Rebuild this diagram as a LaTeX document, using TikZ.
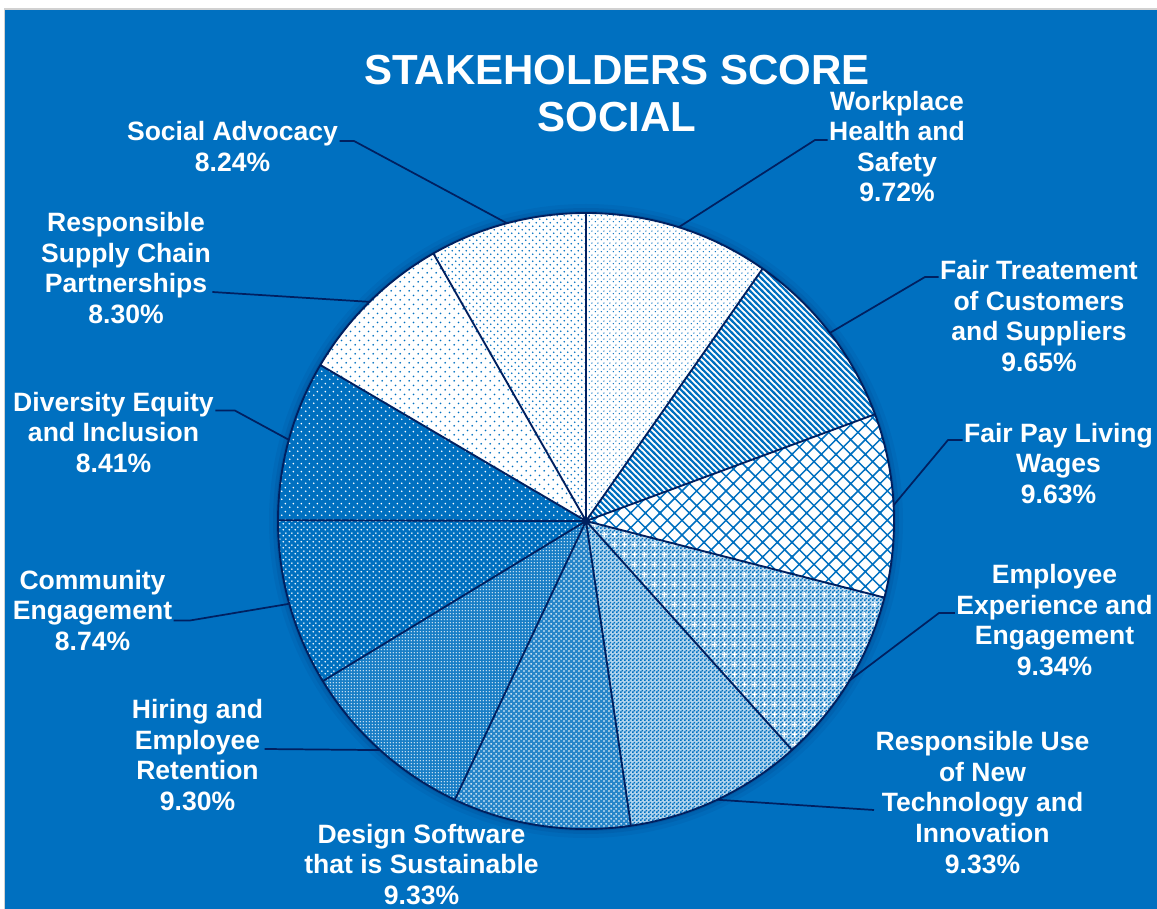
\documentclass[tikz,border=0pt]{standalone}
\usepackage{fontspec}
\setmainfont{Liberation Sans}
\usepackage{tikz}
\usetikzlibrary{patterns}
\usepackage{xcolor}
\definecolor{pieblue}{RGB}{0,112,192}
\definecolor{navy}{RGB}{0,32,96}

%%%PATTERNS (name, tile, dot radius)
\newcommand{\stagdots}[3]{%
  \pgfdeclarepatternformonly{#1}{\pgfpointorigin}{\pgfpoint{#2}{#2}}{\pgfpoint{#2}{#2}}{%
    \pgfpathcircle{\pgfpoint{0.25*#2}{0.25*#2}}{#3}%
    \pgfpathcircle{\pgfpoint{0.75*#2}{0.75*#2}}{#3}%
    \pgfusepath{fill}}}
\newcommand{\griddots}[3]{%
  \pgfdeclarepatternformonly{#1}{\pgfpointorigin}{\pgfpoint{#2}{#2}}{\pgfpoint{#2}{#2}}{%
    \pgfpathcircle{\pgfpoint{0.5*#2}{0.5*#2}}{#3}%
    \pgfusepath{fill}}}
\stagdots{wpdots}{4.2pt}{0.6pt}
\stagdots{sadots}{5.6pt}{0.65pt}
\stagdots{rsdots}{7pt}{0.75pt}
\stagdots{dedots}{6pt}{0.75pt}
\stagdots{cedots}{4.5pt}{0.75pt}
\stagdots{dsdots}{3.4pt}{0.75pt}
\griddots{hedots}{2.4pt}{0.6pt}
\pgfdeclarepatternformonly{ftlines}{\pgfqpoint{-1pt}{-1pt}}{\pgfqpoint{5.5pt}{5.5pt}}{\pgfqpoint{4.5pt}{4.5pt}}{%
  \pgfsetlinewidth{1.6pt}%
  \pgfpathmoveto{\pgfqpoint{-1pt}{5.5pt}}\pgfpathlineto{\pgfqpoint{5.5pt}{-1pt}}%
  \pgfusepath{stroke}}
\pgfdeclarepatternformonly{fpcross}{\pgfqpoint{-1pt}{-1pt}}{\pgfqpoint{12pt}{12pt}}{\pgfqpoint{11pt}{11pt}}{%
  \pgfsetlinewidth{1.1pt}%
  \pgfpathmoveto{\pgfqpoint{-1pt}{-1pt}}\pgfpathlineto{\pgfqpoint{12pt}{12pt}}%
  \pgfpathmoveto{\pgfqpoint{-1pt}{12pt}}\pgfpathlineto{\pgfqpoint{12pt}{-1pt}}%
  \pgfusepath{stroke}}
\pgfdeclarepatternformonly{checker}{\pgfpointorigin}{\pgfqpoint{3pt}{3pt}}{\pgfqpoint{3pt}{3pt}}{%
  \pgfpathrectangle{\pgfpointorigin}{\pgfqpoint{1.5pt}{1.5pt}}%
  \pgfpathrectangle{\pgfqpoint{1.5pt}{1.5pt}}{\pgfqpoint{1.5pt}{1.5pt}}%
  \pgfusepath{fill}}
\pgfdeclarepatternformonly{eeplus}{\pgfpointorigin}{\pgfqpoint{7.5pt}{7.5pt}}{\pgfqpoint{7.5pt}{7.5pt}}{%
  \pgfsetlinewidth{0.9pt}%
  \pgfpathmoveto{\pgfqpoint{1.75pt}{3.75pt}}\pgfpathlineto{\pgfqpoint{5.75pt}{3.75pt}}%
  \pgfpathmoveto{\pgfqpoint{3.75pt}{1.75pt}}\pgfpathlineto{\pgfqpoint{3.75pt}{5.75pt}}%
  \pgfusepath{stroke}}

\begin{document}
\begin{tikzpicture}[x=0.75pt,y=-0.75pt,
  lbl/.style={text=white, align=center, inner sep=1pt, font=\fontsize{19.9}{22.9}\selectfont\bfseries},
  ttlfont/.style={text=white, align=center, inner sep=1pt, font=\fontsize{31.5}{35.3}\selectfont\bfseries},
  leader/.style={draw=navy, line width=1.3pt},
  rim/.style={draw=navy, line width=1.4pt},
  wpfill/.style={preaction={fill=white}, pattern=wpdots, pattern color=pieblue},
  ftfill/.style={preaction={fill=white}, pattern=ftlines, pattern color=pieblue},
  fpfill/.style={preaction={fill=white}, pattern=fpcross, pattern color=pieblue},
  eefill/.style={preaction={fill=pieblue!25!white}, preaction={pattern=checker, pattern color=pieblue}, pattern=eeplus, pattern color=white},
  rufill/.style={preaction={fill=pieblue!30!white}, pattern=checker, pattern color=pieblue},
  dsfill/.style={preaction={fill=pieblue!85!white}, pattern=dsdots, pattern color=white},
  hefill/.style={preaction={fill=pieblue!90!white}, pattern=hedots, pattern color=white},
  cefill/.style={preaction={fill=pieblue}, pattern=cedots, pattern color=white},
  defill/.style={preaction={fill=pieblue}, pattern=dedots, pattern color=white},
  rsfill/.style={preaction={fill=white}, pattern=rsdots, pattern color=pieblue},
  safill/.style={preaction={fill=white}, pattern=sadots, pattern color=pieblue}]
%%%BACKGROUND
\useasboundingbox (0,0) rectangle (1157,909);
\fill[white] (0,0) rectangle (1157,909);
\fill[black!18] (3.5,8.5) rectangle (1157,909);
\fill[pieblue] (5,10.5) rectangle (1157,909);
%%%TITLE
\node[ttlfont] (ttl) at (617,93.5) {STAKEHOLDERS SCORE\\SOCIAL};
%%%PIE
\coordinate (O) at (586,521);
\fill[navy, opacity=.07] (O) circle (317);
\fill[navy, opacity=.10] (O) circle (313);
\fill[navy, opacity=.14] (O) circle (310);
\fill[wpfill] (O) -- ++(-90:308) arc[start angle=-90, end angle=-55.01, radius=308] -- cycle;
\fill[ftfill] (O) -- ++(-55.01:308) arc[start angle=-55.01, end angle=-20.27, radius=308] -- cycle;
\fill[fpfill] (O) -- ++(-20.27:308) arc[start angle=-20.27, end angle=14.40, radius=308] -- cycle;
\fill[eefill] (O) -- ++(14.40:308) arc[start angle=14.40, end angle=48.02, radius=308] -- cycle;
\fill[rufill] (O) -- ++(48.02:308) arc[start angle=48.02, end angle=81.61, radius=308] -- cycle;
\fill[dsfill] (O) -- ++(81.61:308) arc[start angle=81.61, end angle=115.20, radius=308] -- cycle;
\fill[hefill] (O) -- ++(115.20:308) arc[start angle=115.20, end angle=148.68, radius=308] -- cycle;
\fill[cefill] (O) -- ++(148.68:308) arc[start angle=148.68, end angle=180.14, radius=308] -- cycle;
\fill[defill] (O) -- ++(180.14:308) arc[start angle=180.14, end angle=210.42, radius=308] -- cycle;
\fill[rsfill] (O) -- ++(210.42:308) arc[start angle=210.42, end angle=240.30, radius=308] -- cycle;
\fill[safill] (O) -- ++(240.30:308) arc[start angle=240.30, end angle=270, radius=308] -- cycle;
\draw[rim] (O) -- ++(-90:308) (O) -- ++(-55.01:308) (O) -- ++(-20.27:308)
  (O) -- ++(14.40:308) (O) -- ++(48.02:308) (O) -- ++(81.61:308) (O) -- ++(115.20:308)
  (O) -- ++(148.68:308) (O) -- ++(180.14:308) (O) -- ++(210.42:308) (O) -- ++(240.30:308);
\draw[rim] (O) circle (308);
%%%LABELS
\node[lbl] (wps) at (897,146.5) {Workplace\\Health and\\Safety\\9.72\%};
\node[lbl] (ftc) at (1039,316) {Fair Treatement\\of Customers\\and Suppliers\\9.65\%};
\node[lbl] (fpw) at (1058.5,463.5) {Fair Pay Living\\Wages\\9.63\%};
\node[lbl] (eee) at (1054.5,620) {Employee\\Experience and\\Engagement\\9.34\%};
\node[lbl] (rut) at (982.5,802.5) {Responsible Use\\of New\\Technology and\\Innovation\\9.33\%};
\node[lbl] (dss) at (421.5,864.5) {Design Software\\that is Sustainable\\9.33\%};
\node[lbl] (her) at (197.5,755) {Hiring and\\Employee\\Retention\\9.30\%};
\node[lbl] (cen) at (92.5,610.5) {Community\\Engagement\\8.74\%};
\node[lbl] (dei) at (113.5,432.5) {Diversity Equity\\and Inclusion\\8.41\%};
\node[lbl] (rsc) at (126,268) {Responsible\\Supply Chain\\Partnerships\\8.30\%};
\node[lbl] (sad) at (232.5,146.5) {Social Advocacy\\8.24\%};
%%%LEADERS
\path (O) ++(-72.50:308) coordinate (wp-e) (O) ++(-37.64:308) coordinate (ft-e)
  (O) ++(-2.93:308) coordinate (fp-e) (O) ++(31.21:308) coordinate (ee-e)
  (O) ++(64.82:308) coordinate (ru-e) (O) ++(131.94:308) coordinate (he-e)
  (O) ++(164.41:308) coordinate (ce-e) (O) ++(195.28:308) coordinate (de-e)
  (O) ++(225.36:308) coordinate (rs-e) (O) ++(255.15:308) coordinate (sa-e);
\coordinate (wp-k) at (815,140);
\coordinate (ft-k) at (925,277);
\coordinate (fp-k) at (948,440);
\coordinate (ee-k) at (939,613);
\coordinate (ru-k) at (871,810);
\coordinate (he-k) at (266,749);
\coordinate (ce-k) at (190.5,620.4);
\coordinate (de-k) at (235,410.6);
\coordinate (rs-k) at (214,292);
\coordinate (sa-k) at (354,141);
\draw[leader] (wp-e) -- (wp-k) -- (wp-k -| wps.west);
\draw[leader] (ft-e) -- (ft-k) -- (ft-k -| ftc.west);
\draw[leader] (fp-e) -- (fp-k) -- (fp-k -| fpw.west);
\draw[leader] (ee-e) -- (ee-k) -- (ee-k -| eee.west);
\draw[leader] (ru-e) -- (ru-k -| rut.west);
\draw[leader] (he-e) -- (he-k -| her.east);
\draw[leader] (ce-e) -- (ce-k) -- (ce-k -| cen.east);
\draw[leader] (de-e) -- (de-k) -- (de-k -| dei.east);
\draw[leader] (rs-e) -- (rs-k -| rsc.east);
\draw[leader] (sa-e) -- (sa-k) -- (sa-k -| sad.east);
\end{tikzpicture}
\end{document}
